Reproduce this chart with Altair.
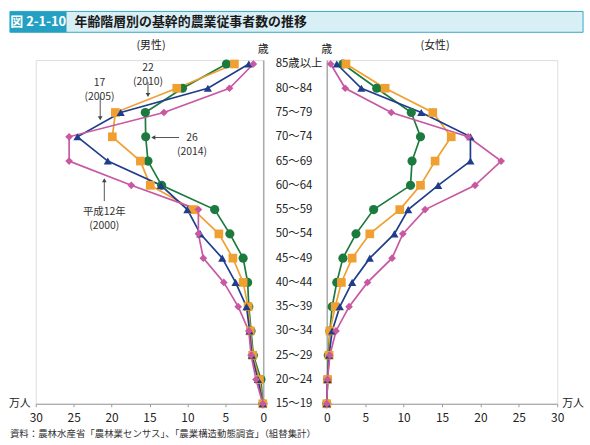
import json
import altair as alt
import pandas as pd

FONT = "Noto Sans CJK JP"

# age classes, bottom (youngest) to top (oldest)
AGES = ["15～19", "20～24", "25～29", "30～34", "35～39", "40～44", "45～49",
        "50～54", "55～59", "60～64", "65～69", "70～74", "75～79", "80～84", "85歳以上"]

# survey years, listed back-to-front for drawing order
YEARS = ["2014", "2010", "2005", "2000"]
COLORS = ["#1d7a3e", "#f0a030", "#1f3d8c", "#c858a2"]
SHAPES = ["circle", "square", "triangle-up", "diamond"]
SIZES = [85, 60, 85, 115]

# core agricultural workers, 10,000 persons (male)
MALE = {
    "2000": [0.05, 0.95, 1.6, 1.9, 3.3, 5.2, 7.9, 8.55, 8.55, 17.4, 25.6, 25.6, 13.1, 4.45, 1.3],
    "2005": [0.05, 0.7, 1.5, 1.8, 2.2, 3.65, 5.4, 8.3, 10.0, 13.5, 20.5, 24.5, 18.8, 7.3, 1.9],
    "2010": [0.05, 0.5, 1.4, 1.7, 2.0, 2.65, 4.0, 5.85, 9.2, 14.9, 16.2, 19.9, 19.5, 11.4, 3.8],
    "2014": [0.05, 0.3, 1.3, 1.6, 1.9, 2.05, 2.65, 4.4, 6.4, 13.4, 15.2, 15.5, 15.55, 10.65, 4.85],
}
# core agricultural workers, 10,000 persons (female)
FEMALE = {
    "2000": [0.0, 0.1, 0.4, 1.2, 2.9, 5.3, 8.5, 9.9, 12.8, 19.3, 22.7, 18.4, 8.4, 2.4, 0.5],
    "2005": [0.0, 0.1, 0.3, 0.7, 1.7, 3.3, 5.6, 8.8, 10.6, 14.5, 18.7, 18.7, 12.3, 4.5, 1.3],
    "2010": [0.0, 0.1, 0.3, 0.4, 1.1, 1.9, 3.3, 5.6, 9.5, 12.2, 14.1, 16.2, 13.8, 7.6, 2.5],
    "2014": [0.0, 0.1, 0.2, 0.4, 0.7, 1.3, 2.1, 3.8, 6.1, 10.9, 11.1, 12.2, 11.0, 6.5, 2.1],
}

TICKS = [0, 5, 10, 15, 20, 25, 30]


def long_table(series):
    rows = []
    for year in YEARS:
        for i, v in enumerate(series[year]):
            rows.append({"year": year, "idx": i, "age": AGES[i], "value": v})
    return pd.DataFrame(rows)


male_df = long_table(MALE)
female_df = long_table(FEMALE)

W_L, W_R, H = 229, 232, 346
y_scale = alt.Scale(domain=[0, 14.16], nice=False, zero=False)
color = alt.Color("year:N", scale=alt.Scale(domain=YEARS, range=COLORS), legend=None)
shape = alt.Shape("year:N", scale=alt.Scale(domain=YEARS, range=SHAPES), legend=None)
size = alt.Size("year:O", scale=alt.Scale(domain=YEARS, range=SIZES), legend=None)


def x_axis():
    return alt.Axis(values=TICKS, labelFlush=False, grid=False, title=None,
                    domainColor="#9a9a9a", tickColor="#9a9a9a", tickSize=3,
                    labelFontSize=12, labelColor="#222", labelFont=FONT, labelPadding=6)


def series_layers(df, xscale, yaxis):
    x = alt.X("value:Q", scale=xscale, axis=x_axis())
    y = alt.Y("idx:Q", scale=y_scale, axis=yaxis)
    lines = alt.Chart(df).mark_line(strokeWidth=1.7).encode(
        x=x, y=y, color=color, detail="year:N", order=alt.Order("idx:Q"))
    points = alt.Chart(df).mark_point(filled=True, opacity=1).encode(
        x=x, y=y, color=color, shape=shape, size=size)
    return lines, points


def text_at(txt, x, y, size=11, align="center", weight="normal", col="#222"):
    return alt.Chart(pd.DataFrame({"t": [txt]})).mark_text(
        font=FONT, fontSize=size, align=align, baseline="middle",
        fontWeight=weight, color=col).encode(
        text="t:N", x=alt.value(x), y=alt.value(y))


# ---- male panel (x reversed) ----
left_xscale = alt.Scale(domain=[0, 30], reverse=True, nice=False)
left_yaxis = alt.Axis(orient="right", labels=False, ticks=False, title=None, grid=False,
                      domainColor="#aaaaaa", domainWidth=1.5)
l_lines, l_points = series_layers(male_df, left_xscale, left_yaxis)

# year call-outs on the male panel (two-line labels)
ann_text = pd.DataFrame({
    "t": ["22\n(2010)", "17\n(2005)", "26\n(2014)", "平成12年\n(2000)"],
    "value": [15.2, 21.6, 9.4, 20.96],
    "idx": [13.84, 13.22, 10.93, 7.90],
})
ann_lines = pd.DataFrame({
    "value": [15.2, 21.5, 11.1, 20.96],
    "value2": [15.2, 21.5, 14.5, 20.96],
    "idx": [13.26, 12.65, 10.97, 8.35],
    "idx2": [12.72, 11.76, 10.97, 9.21],
})
ann_heads = pd.DataFrame({
    "value": [15.2, 21.5, 14.5, 20.96],
    "idx": [12.72, 11.76, 10.97, 9.21],
    "shape": ["triangle-down", "triangle-down", "triangle-left", "triangle-up"],
})
lx = alt.X("value:Q", scale=left_xscale, axis=x_axis())
ly = alt.Y("idx:Q", scale=y_scale, axis=left_yaxis)
ann_t = alt.Chart(ann_text).mark_text(font=FONT, fontSize=10.5, color="#333",
                                      lineBreak="\n", lineHeight=14,
                                      baseline="middle").encode(
    x=lx, y=ly, text="t:N")
ann_r = alt.Chart(ann_lines).mark_rule(color="#555", strokeWidth=1).encode(
    x=lx, y=ly, x2="value2:Q", y2="idx2:Q")
ann_h = alt.Chart(ann_heads).mark_point(filled=True, opacity=1, color="#444", size=22).encode(
    x=lx, y=ly, shape=alt.Shape("shape:N", scale=None))

# title bar and source note (drawn relative to the male panel)
bar_bg = alt.Chart(pd.DataFrame({"k": [0]})).mark_rect(
    fill="#d9eff6", stroke="#38a8c6", strokeWidth=1).encode(
    x=alt.value(-26), x2=alt.value(551), y=alt.value(-49), y2=alt.value(-28))
bar_tag = alt.Chart(pd.DataFrame({"k": [0]})).mark_rect(fill="#24a1c2").encode(
    x=alt.value(-26), x2=alt.value(31), y=alt.value(-49), y2=alt.value(-28))
tag_txt = text_at("図 2-1-10", 2.5, -38.5, size=13, weight="bold", col="#ffffff")
title_txt = text_at("年齢階層別の基幹的農業従事者数の推移", 39, -38.5, size=13,
                    align="left", weight="bold", col="#1a1a1a")
male_hdr = text_at("(男性)", 116, -14, size=11)
sai_l = text_at("歳", 229, -10, size=11)
unit_l = text_at("万人", -16, 346, size=11)
source = text_at("資料：農林水産省「農林業センサス」、「農業構造動態調査」（組替集計）",
                 -26, 376, size=9.5, align="left", col="#333")

left = alt.layer(bar_bg, bar_tag, tag_txt, title_txt, male_hdr, sai_l, unit_l, source,
                 l_lines, l_points, ann_r, ann_h, ann_t).properties(width=W_L, height=H)

# ---- female panel ----
right_xscale = alt.Scale(domain=[0, 30], nice=False)
right_yaxis = alt.Axis(orient="left", values=list(range(len(AGES))),
                       labelExpr=json.dumps(AGES, ensure_ascii=False) + "[datum.value]",
                       labelAlign="left", labelBaseline="middle", labelPadding=52,
                       ticks=False, tickSize=0, title=None, grid=False,
                       domainColor="#aaaaaa", domainWidth=1.5,
                       labelFontSize=11.5, labelColor="#222", labelFont=FONT)
r_lines, r_points = series_layers(female_df, right_xscale, right_yaxis)
female_hdr = text_at("(女性)", 109, -14, size=11)
sai_r = text_at("歳", 0, -10, size=11)
unit_r = text_at("万人", 248, 346, size=11)

right = alt.layer(female_hdr, sai_r, unit_r, r_lines, r_points).properties(width=W_R, height=H)

chart = alt.hconcat(left, right, spacing=64, bounds="flush").properties(
    padding={"left": 8, "top": 9, "right": 5, "bottom": 4}
).configure_view(stroke=None).configure(font=FONT)

chart.save("out.html", embed_options={"renderer": "svg", "actions": False})
